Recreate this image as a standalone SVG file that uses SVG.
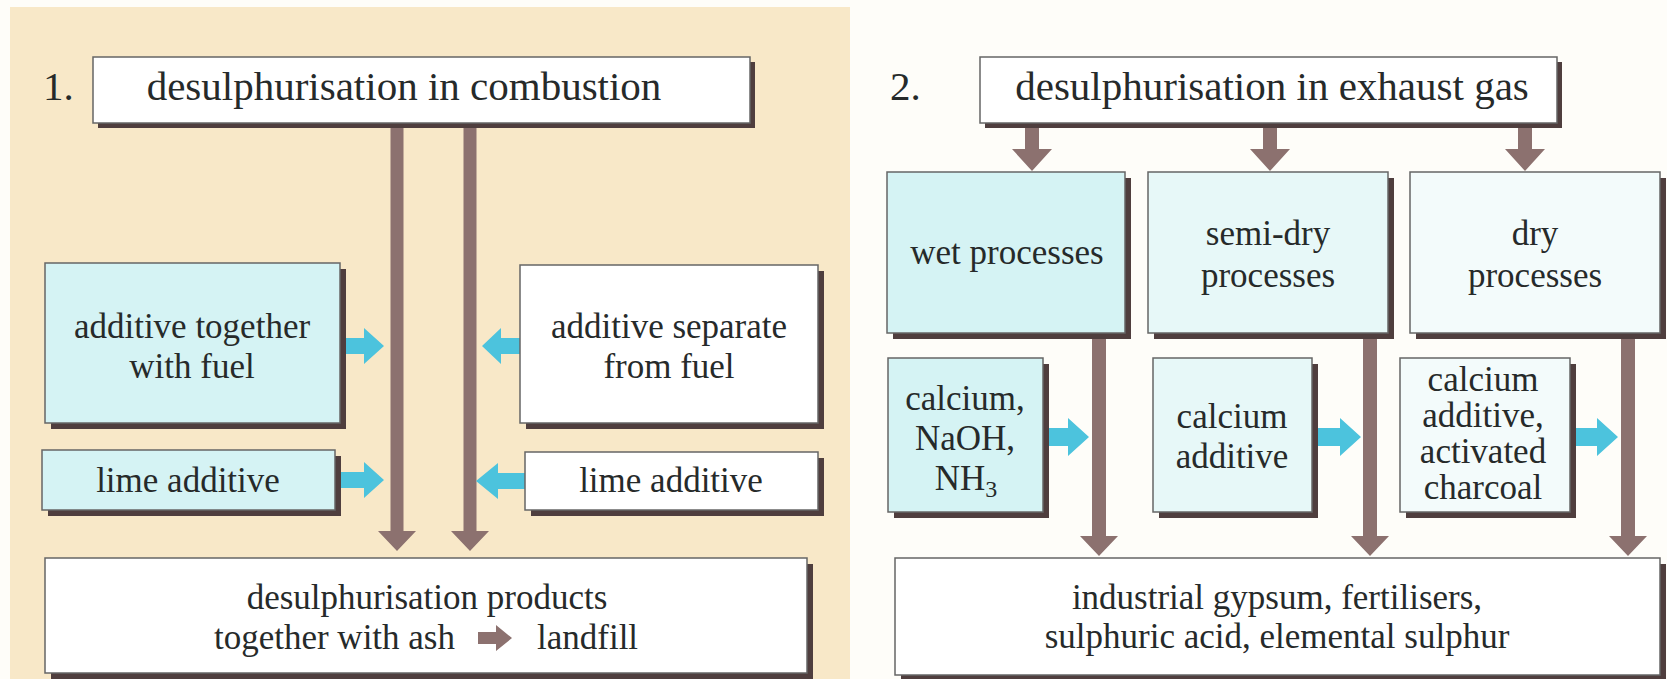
<svg xmlns="http://www.w3.org/2000/svg" width="1667" height="679" viewBox="0 0 1667 679">
<style>
.sh{fill:#4f3e3e}
.bx{stroke:#666;stroke-width:1.5}
.c1{fill:#d5f3f4}
.c2{fill:#e7f8f8}
.c3{fill:#f3fbfb}
.wh{fill:#ffffff}
.t{font-family:"Liberation Serif","Times New Roman",serif;font-size:35px;fill:#262a2a;text-anchor:middle}
.ti{font-size:41px}
.br{fill:#8c716f}
.cy{fill:#4cc3dd}
</style>
<rect x="0" y="0" width="1667" height="679" fill="#fefdf9"/>
<rect x="10" y="7" width="840" height="672" fill="#f8e8c8"/>

<g id="connectors">
<polygon class="br" points="390.5,123 403.5,123 403.5,531 416,531 397,551 378,531 390.5,531"/>
<polygon class="br" points="463.5,123 476.5,123 476.5,531 489,531 470,551 451,531 463.5,531"/>
<polygon class="cy" points="341,338 364,338 364,328 384,346 364,364 364,354 341,354"/>
<polygon class="cy" points="336,472 364,472 364,462 384,480 364,498 364,488 336,488"/>
<polygon class="cy" points="520,338 501,338 501,328 482,346 501,364 501,354 520,354"/>
<polygon class="cy" points="525,473 498,473 498,463 476,481 498,499 498,489 525,489"/>
<polygon class="br" points="1025,123 1039,123 1039,149 1052,149 1032,171 1012,149 1025,149"/>
<polygon class="br" points="1263,123 1277,123 1277,149 1290,149 1270,171 1250,149 1263,149"/>
<polygon class="br" points="1518,123 1532,123 1532,149 1545,149 1525,171 1505,149 1518,149"/>
<polygon class="br" points="1092,333 1106,333 1106,536 1118,536 1099,556 1080,536 1092,536"/>
<polygon class="br" points="1363,333 1377,333 1377,536 1389,536 1370,556 1351,536 1363,536"/>
<polygon class="br" points="1621,333 1635,333 1635,536 1647,536 1628,556 1609,536 1621,536"/>
<polygon class="cy" points="1045,428 1068,428 1068,418 1089,437 1068,456 1068,446 1045,446"/>
<polygon class="cy" points="1314,428 1340,428 1340,418 1361,437 1340,456 1340,446 1314,446"/>
<polygon class="cy" points="1574,428 1597,428 1597,418 1618,437 1597,456 1597,446 1574,446"/>
</g>

<g id="label1"><text class="t ti" x="43" y="100" style="text-anchor:start">1.</text></g>
<g id="title1">
<rect class="sh" x="98" y="62" width="657" height="66"/>
<rect class="bx wh" x="93" y="57" width="657" height="66"/>
<text class="t ti" x="404" y="100">desulphurisation in combustion</text>
</g>
<g id="together">
<rect class="sh" x="51" y="269" width="295" height="160"/>
<rect class="bx c1" x="45" y="263" width="295" height="160"/>
<text class="t" x="192" y="338">additive together</text>
<text class="t" x="192" y="378">with fuel</text>
</g>
<g id="separate">
<rect class="sh" x="526" y="271" width="298" height="158"/>
<rect class="bx wh" x="520" y="265" width="298" height="158"/>
<text class="t" x="669" y="338">additive separate</text>
<text class="t" x="669" y="378">from fuel</text>
</g>
<g id="lime1">
<rect class="sh" x="48" y="456" width="293" height="60"/>
<rect class="bx c1" x="42" y="450" width="293" height="60"/>
<text class="t" x="188" y="492">lime additive</text>
</g>
<g id="lime2">
<rect class="sh" x="531" y="458" width="293" height="58"/>
<rect class="bx wh" x="525" y="452" width="293" height="58"/>
<text class="t" x="671" y="492">lime additive</text>
</g>
<g id="products1">
<rect class="sh" x="51" y="564" width="762" height="115"/>
<rect class="bx wh" x="45" y="558" width="762" height="115"/>
<text class="t" x="427" y="609">desulphurisation products</text>
<text class="t" x="455" y="649" style="text-anchor:end">together with ash</text>
<polygon class="br" points="478,632 496,632 496,625 512,638 496,651 496,644 478,644"/>
<text class="t" x="537" y="649" style="text-anchor:start">landfill</text>
</g>

<g id="label2"><text class="t ti" x="890" y="100" style="text-anchor:start">2.</text></g>
<g id="title2">
<rect class="sh" x="985" y="62" width="577" height="66"/>
<rect class="bx wh" x="980" y="57" width="577" height="66"/>
<text class="t ti" x="1272" y="100">desulphurisation in exhaust gas</text>
</g>
<g id="wet">
<rect class="sh" x="893" y="178" width="238" height="161"/>
<rect class="bx c1" x="887" y="172" width="238" height="161"/>
<text class="t" x="1007" y="264">wet processes</text>
</g>
<g id="semidry">
<rect class="sh" x="1154" y="178" width="240" height="161"/>
<rect class="bx c2" x="1148" y="172" width="240" height="161"/>
<text class="t" x="1268" y="245">semi-dry</text>
<text class="t" x="1268" y="287">processes</text>
</g>
<g id="dry">
<rect class="sh" x="1416" y="178" width="250" height="161"/>
<rect class="bx c3" x="1410" y="172" width="250" height="161"/>
<text class="t" x="1535" y="245">dry</text>
<text class="t" x="1535" y="287">processes</text>
</g>
<g id="wetadd">
<rect class="sh" x="894" y="364" width="155" height="154"/>
<rect class="bx c1" x="888" y="358" width="155" height="154"/>
<text class="t" x="965" y="410">calcium,</text>
<text class="t" x="965" y="450">NaOH,</text>
<text class="t" x="966" y="490">NH<tspan font-size="24" dy="7">3</tspan></text>
</g>
<g id="semidryadd">
<rect class="sh" x="1159" y="364" width="159" height="154"/>
<rect class="bx c2" x="1153" y="358" width="159" height="154"/>
<text class="t" x="1232" y="428">calcium</text>
<text class="t" x="1232" y="468">additive</text>
</g>
<g id="dryadd">
<rect class="sh" x="1406" y="364" width="170" height="154"/>
<rect class="bx c3" x="1400" y="358" width="170" height="154"/>
<text class="t" x="1483" y="391">calcium</text>
<text class="t" x="1483" y="427">additive,</text>
<text class="t" x="1483" y="463">activated</text>
<text class="t" x="1483" y="499">charcoal</text>
</g>
<g id="products2">
<rect class="sh" x="901" y="564" width="765" height="117"/>
<rect class="bx wh" x="895" y="558" width="765" height="117"/>
<text class="t" x="1277" y="609">industrial gypsum, fertilisers,</text>
<text class="t" x="1277" y="648">sulphuric acid, elemental sulphur</text>
</g>
</svg>
